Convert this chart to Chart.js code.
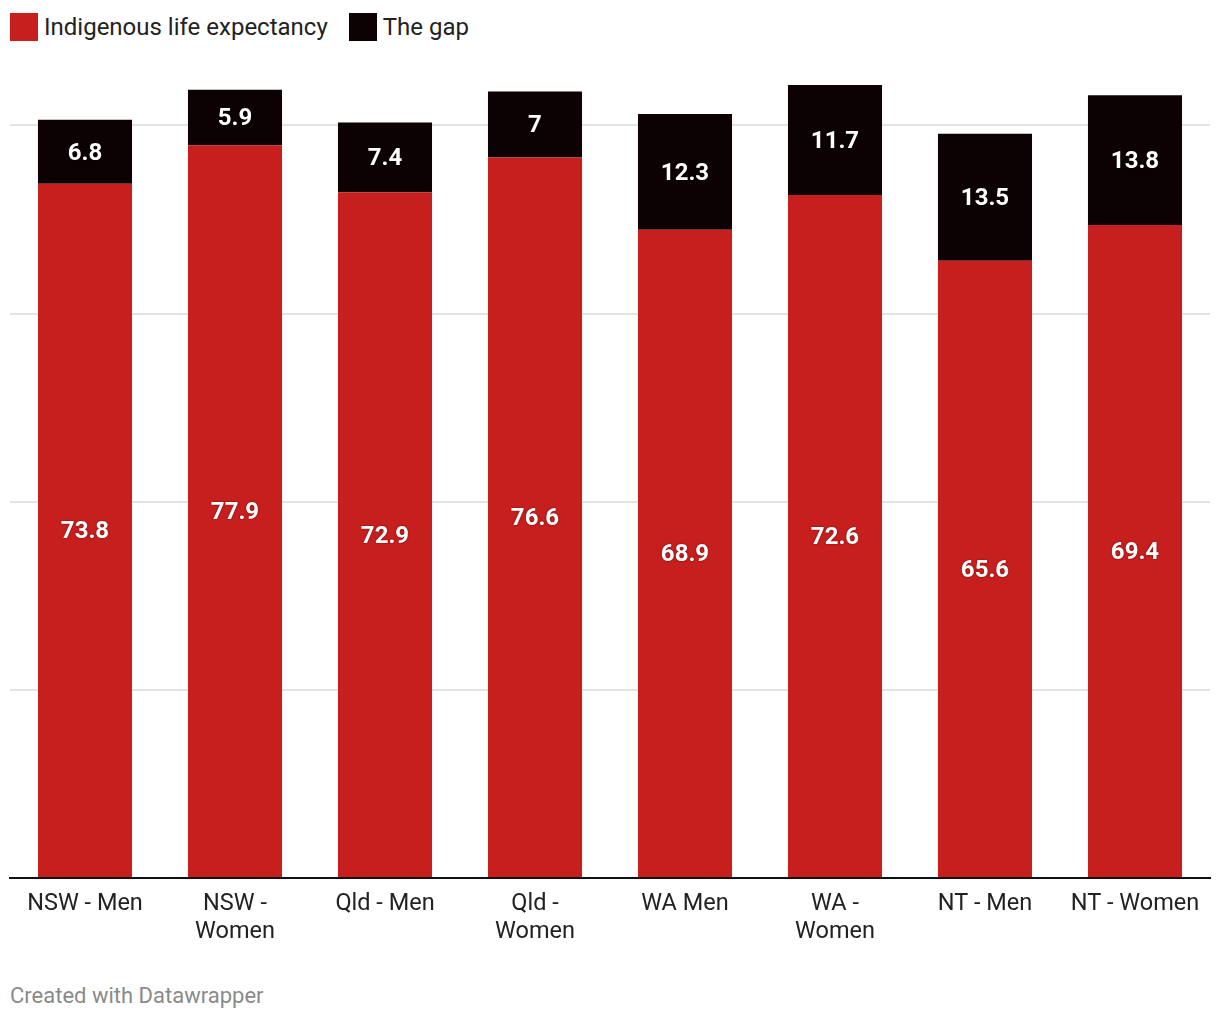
<!DOCTYPE html>
<html>
<head>
<meta charset="utf-8">
<script src="https://cdn.jsdelivr.net/npm/chart.js@4/dist/chart.umd.min.js"></script>
<style>
  body { margin: 0; background: #fff; font-family: Roboto, sans-serif; }
  #wrap { position: relative; width: 1220px; height: 1020px; }
  .legend { position: absolute; top: 13px; left: 10px; display: flex; align-items: center; font-size: 24px; color: #222; }
  .legend span.box { display: inline-block; width: 28px; height: 28px; margin-right: 6px; }
  .legend .item { display: flex; align-items: center; margin-right: 21px; }
  #chartBox { position: absolute; left: 0; top: 60px; width: 1220px; height: 900px; }
  .footer { position: absolute; left: 10px; top: 983px; font-size: 22px; color: #8a8a8a; }
</style>
</head>
<body>
<div id="wrap">
  <div class="legend">
    <div class="item"><span class="box" style="background:#c71e1e"></span>Indigenous life expectancy</div>
    <div class="item"><span class="box" style="background:#0d0203"></span>The gap</div>
  </div>
  <div id="chartBox"><canvas id="chart"></canvas></div>
  <div class="footer">Created with Datawrapper</div>
</div>
<script>
// Categorías y valores
const categories = [
    'NSW - Men', ['NSW -', 'Women'], 'Qld - Men', ['Qld -', 'Women'],
    'WA Men', ['WA -', 'Women'], 'NT - Men', 'NT - Women'
];
const indigenousLife = [73.8, 77.9, 72.9, 76.6, 68.9, 72.6, 65.6, 69.4];
const theGap = [6.8, 5.9, 7.4, 7, 12.3, 11.7, 13.5, 13.8];

// Etiquetas dentro de cada segmento
const valueLabels = {
    id: 'valueLabels',
    afterDatasetsDraw(chart) {
        const ctx = chart.ctx;
        ctx.save();
        ctx.font = 'bold 24px Roboto';
        ctx.fillStyle = '#fff';
        ctx.textAlign = 'center';
        ctx.textBaseline = 'middle';
        ctx.shadowColor = 'rgba(0,0,0,0.55)';
        ctx.shadowBlur = 2;
        chart.data.datasets.forEach((ds, i) => {
            chart.getDatasetMeta(i).data.forEach((bar, j) => {
                const mid = (bar.y + bar.base) / 2 + 2;
                ctx.fillText(String(ds.data[j]), bar.x, mid);
            });
        });
        ctx.restore();
    }
};

new Chart(document.getElementById('chart').getContext('2d'), {
    type: 'bar',
    data: {
        labels: categories,
        datasets: [
            { label: 'Indigenous life expectancy', data: indigenousLife, backgroundColor: '#c71e1e' },
            { label: 'The gap', data: theGap, backgroundColor: '#0d0203' }
        ]
    },
    options: {
        responsive: true,
        maintainAspectRatio: false,
        animation: false,
        layout: { padding: { top: 24, left: 10, right: 10, bottom: 0 } },
        datasets: { bar: { categoryPercentage: 1, barPercentage: 0.627 } },
        plugins: { legend: { display: false }, tooltip: { enabled: false } },
        scales: {
            x: {
                stacked: true,
                grid: { display: false, drawTicks: false },
                border: { color: '#111', width: 2 },
                ticks: {
                    padding: 12,
                    color: '#222',
                    maxRotation: 0,
                    autoSkip: false,
                    font: { family: 'Roboto', size: 23.5, lineHeight: 1.19 }
                },
                afterFit: s => { s.height = 82; }
            },
            y: {
                stacked: true,
                min: 0,
                max: 84.4,
                ticks: { display: false, stepSize: 20, includeBounds: false },
                grid: { color: '#e3e3e3', lineWidth: 2, drawTicks: false },
                border: { display: false },
                afterFit: s => { s.width = 0; }
            }
        }
    },
    plugins: [valueLabels]
});
</script>
</body>
</html>
